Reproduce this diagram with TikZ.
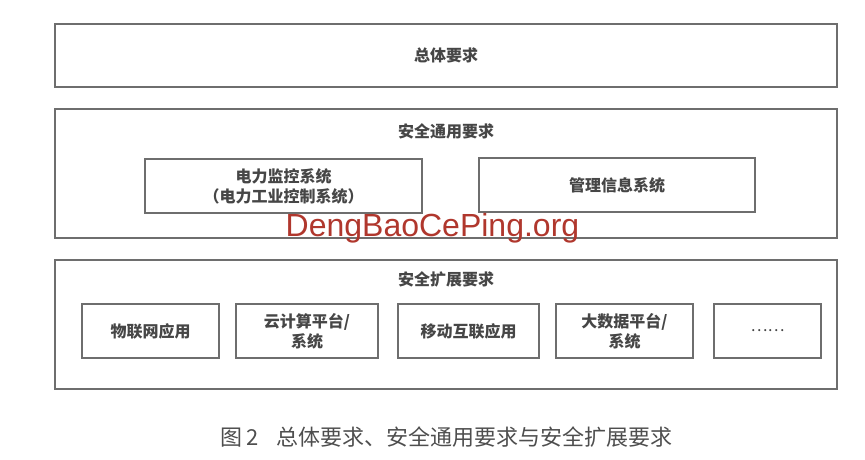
\documentclass[tikz,border=0pt]{standalone}
\usepackage{fontspec}
\newfontfamily\cjk{Noto Sans CJK SC}
\setsansfont{Liberation Sans}
\definecolor{boxline}{HTML}{6E6E6E}
\definecolor{boxtext}{HTML}{464646}
\definecolor{captext}{HTML}{4E4E4E}
\definecolor{markred}{HTML}{B0372D}
\begin{document}
\begin{tikzpicture}[x=1pt,y=-1pt,
  reqbox/.style={draw=boxline, line width=1.2pt, minimum width=782pt, inner sep=0pt},
  subbox/.style={draw=boxline, line width=1.2pt, minimum height=54pt, inner sep=0pt,
    align=center, text=boxtext, font=\cjk\bfseries\fontsize{16pt}{20pt}\selectfont},
  reqlabel/.style={text=boxtext, font=\cjk\bfseries\fontsize{16pt}{20pt}\selectfont}]
\useasboundingbox (0,0) rectangle (865,460);
\node[reqbox, minimum height=63pt, reqlabel] (req0) at (446,55.5){总体要求};
\node[reqbox, minimum height=129pt] (req1) at (446,173.5){};
\node[reqlabel] (tit1) at (446,131){安全通用要求};
\node[subbox, minimum width=277pt] (gen0) at (283.5,186){电力监控系统\\（电力工业控制系统）};
\node[subbox, minimum width=276pt] (gen1) at (617,185){管理信息系统};
\node[reqbox, minimum height=129pt] (req2) at (446,324.5){};
\node[reqlabel] (tit2) at (446,279){安全扩展要求};
\node[subbox, minimum width=137pt] (ext0) at (150.5,331){物联网应用};
\node[subbox, minimum width=142pt] (ext1) at (307,331){云计算平台/\\系统};
\node[subbox, minimum width=141pt] (ext2) at (468.5,331){移动互联应用};
\node[subbox, minimum width=137pt] (ext3) at (624.5,331){大数据平台/\\系统};
\node[subbox, minimum width=107pt, font=\cjk\mdseries\fontsize{16pt}{20pt}\selectfont] (ext4) at (767.5,331){……};
\node[text=markred, font=\sffamily\fontsize{32pt}{36pt}\selectfont] (mark) at (432.5,228){DengBaoCePing.org};
\node[text=captext, font=\cjk\fontsize{22pt}{26pt}\selectfont] (cap) at (446.5,437){图\,2\hspace{0.8em}总体要求、安全通用要求与安全扩展要求};

\end{tikzpicture}
\end{document}
